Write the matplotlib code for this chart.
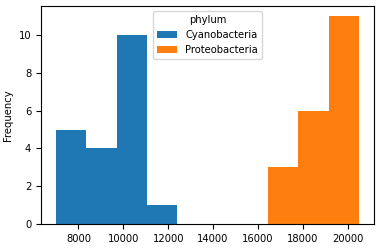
import numpy as np
import matplotlib
matplotlib.use('Agg')
import matplotlib.pyplot as plt

# values (10 shared bins over 7000..20500)
cyanobacteria = [7000, 7300, 7650, 7900, 8200,
                 8500, 8900, 9200, 9500,
                 9750, 9900, 10050, 10200, 10350, 10500, 10650, 10800, 10900, 11000,
                 12350]
proteobacteria = [16600, 17100, 17600,
                  17900, 18200, 18450, 18700, 18900, 19100,
                  19200, 19350, 19500, 19650, 19800, 19900, 20000, 20150, 20250, 20400, 20500]
series_names = ['Cyanobacteria', 'Proteobacteria']
colors = ['#1f77b4', '#ff7f0e']

plt.rcParams['font.size'] = 7.2

allvals = np.array(cyanobacteria + proteobacteria)
bins = np.linspace(allvals.min(), allvals.max(), 11)

fig = plt.figure(figsize=(3.82, 2.48), dpi=100)
ax = fig.add_axes([0.107, 0.097, 0.872, 0.879])
for vals, name, c in zip([cyanobacteria, proteobacteria], series_names, colors):
    ax.hist(vals, bins=bins, color=c, label=name)

ax.set_ylabel('Frequency')
ax.set_xticks([8000, 10000, 12000, 14000, 16000, 18000, 20000])
ax.set_yticks([0, 2, 4, 6, 8, 10])
ax.legend(title='phylum', loc='upper center', fontsize=7.2, title_fontsize=7.2)

fig.savefig('out.png', dpi=100)
